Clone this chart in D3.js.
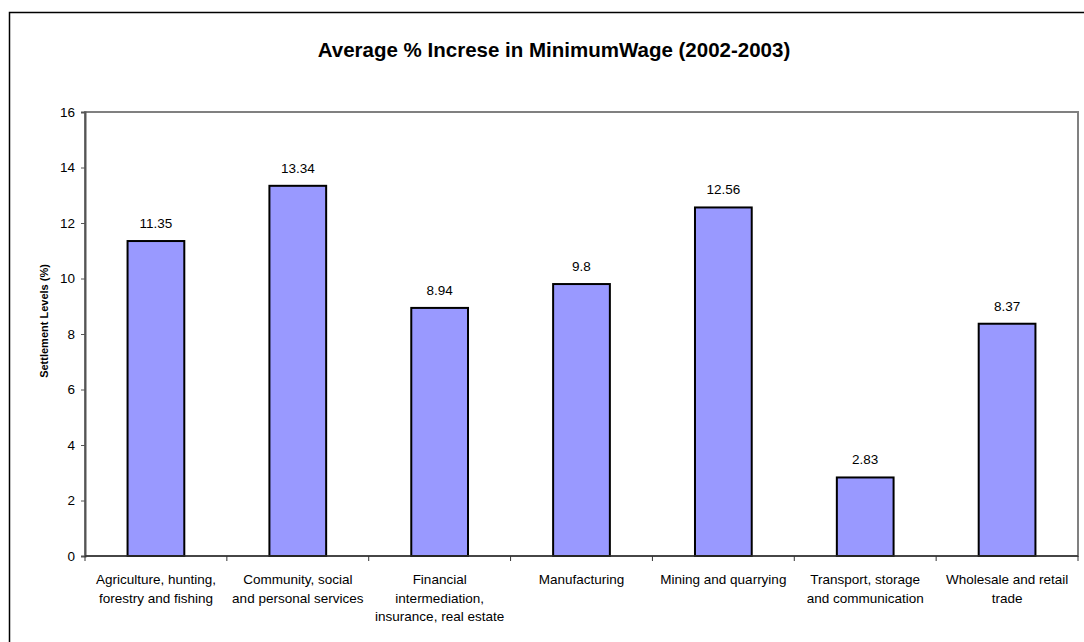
<!DOCTYPE html>
<html>
<head>
<meta charset="utf-8">
<script src="https://cdn.jsdelivr.net/npm/d3@7/dist/d3.min.js"></script>
<style>
  body { margin: 0; background: #fff; }
  svg { font-family: "Liberation Sans", Arial, sans-serif; }
</style>
</head>
<body>
<svg id="chart" width="1084" height="642"></svg>
<script>
// data
var categories = ["Agriculture, hunting, forestry and fishing",
    "Community, social and personal services",
    "Financial intermediation, insurance, real estate",
    "Manufacturing", "Mining and quarrying",
    "Transport, storage and communication",
    "Wholesale and retail trade"];
var labelLines = [["Agriculture, hunting,", "forestry and fishing"],
    ["Community, social", "and personal services"],
    ["Financial", "intermediation,", "insurance, real estate"],
    ["Manufacturing"],
    ["Mining and quarrying"],
    ["Transport, storage", "and communication"],
    ["Wholesale and retail", "trade"]];
var values = [11.35, 13.34, 8.94, 9.8, 12.56, 2.83, 8.37];
var yTicks = [0, 2, 4, 6, 8, 10, 12, 14, 16];

var svg = d3.select("#chart");
var pLeft = 85, pRight = 1078, pTop = 112, pBottom = 556;

// outer chart frame
svg.append("rect")
    .attr("x", 9.5).attr("y", 12.5)
    .attr("width", 1090).attr("height", 640)
    .attr("fill", "none").attr("stroke", "#000").attr("stroke-width", 1.5);

svg.append("text")
    .attr("x", 554).attr("y", 57)
    .attr("text-anchor", "middle")
    .attr("font-size", "20.5px").attr("font-weight", "bold")
    .text("Average % Increse in MinimumWage (2002-2003)");

var x = d3.scaleBand().domain(categories).range([pLeft, pRight]).paddingInner(0.6).paddingOuter(0.3);
var y = d3.scaleLinear().domain([0, 16]).range([pBottom, pTop]);

// plot area border
svg.append("rect")
    .attr("x", pLeft).attr("y", pTop)
    .attr("width", pRight - pLeft).attr("height", pBottom - pTop)
    .attr("fill", "none").attr("stroke", "#808080").attr("stroke-width", 2);

// bars
svg.append("g").selectAll("rect")
    .data(values)
    .enter().append("rect")
    .attr("x", function(d, i) { return x(categories[i]); })
    .attr("y", function(d) { return y(d); })
    .attr("width", x.bandwidth())
    .attr("height", function(d) { return y(0) - y(d); })
    .attr("fill", "#9999ff")
    .attr("stroke", "#000")
    .attr("stroke-width", 2);

svg.append("g").selectAll("text")
    .data(values)
    .enter().append("text")
    .attr("x", function(d, i) { return x(categories[i]) + x.bandwidth() / 2; })
    .attr("y", function(d) { return y(d) - 13; })
    .attr("text-anchor", "middle")
    .attr("font-size", "13.5px")
    .text(function(d) { return d; });

// y axis
var yAxis = svg.append("g")
    .attr("transform", "translate(" + pLeft + ",0)")
    .call(d3.axisLeft(y).tickValues(yTicks).tickSize(4).tickPadding(6));
yAxis.select(".domain").attr("stroke", "#555").attr("stroke-width", 2);
yAxis.selectAll("line").attr("stroke", "#555");
yAxis.selectAll("text").attr("font-size", "13.5px").attr("fill", "#000")
    .attr("font-family", "Liberation Sans, Arial, sans-serif");

svg.append("text")
    .attr("transform", "translate(48,321) rotate(-90)")
    .attr("text-anchor", "middle")
    .attr("font-size", "11px").attr("font-weight", "bold")
    .text("Settlement Levels (%)");

// x axis: ticks between bands
var band = (pRight - pLeft) / categories.length;
var xAxis = svg.append("g");
xAxis.append("line")
    .attr("x1", pLeft).attr("x2", pRight)
    .attr("y1", pBottom).attr("y2", pBottom)
    .attr("stroke", "#333").attr("stroke-width", 1.5);
xAxis.selectAll("line.tick")
    .data(d3.range(categories.length + 1))
    .enter().append("line")
    .attr("class", "tick")
    .attr("x1", function(i) { return pLeft + i * band; })
    .attr("x2", function(i) { return pLeft + i * band; })
    .attr("y1", pBottom).attr("y2", pBottom + 5)
    .attr("stroke", "#333");

var lbl = xAxis.selectAll("text")
    .data(labelLines)
    .enter().append("text")
    .attr("x", function(d, i) { return x(categories[i]) + x.bandwidth() / 2; })
    .attr("y", 584)
    .attr("text-anchor", "middle")
    .attr("font-size", "13.5px");
lbl.selectAll("tspan")
    .data(function(d) { return d; })
    .enter().append("tspan")
    .attr("x", function() { return d3.select(this.parentNode).attr("x"); })
    .attr("dy", function(d, i) { return i === 0 ? 0 : 18.5; })
    .text(function(d) { return d; });
</script>
</body>
</html>
